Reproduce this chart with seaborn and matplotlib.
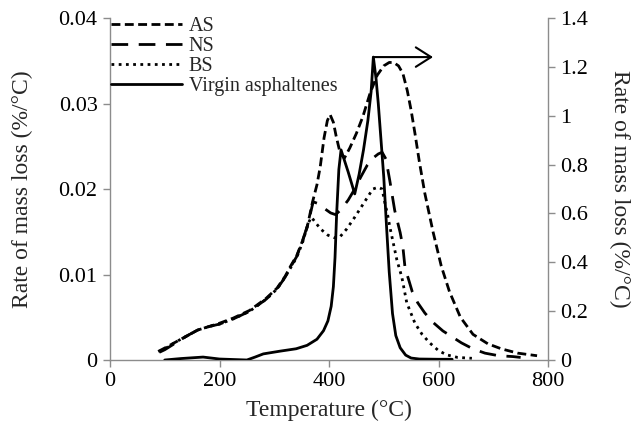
import matplotlib
matplotlib.use("Agg")
import matplotlib.pyplot as plt
import seaborn as sns
import numpy as np

# ---- data ----
labels = ["AS", "NS", "BS", "Virgin asphaltenes"]

t_as = [88, 100, 120, 140, 160, 180, 200, 225, 255, 285, 305, 320, 330, 341, 352, 360, 370, 378,
        384, 391, 397, 402, 408, 413, 420, 428, 438, 450, 462, 475, 488, 500, 510, 518, 527, 535,
        543, 550, 557, 565, 575, 590, 605, 620, 640, 663, 690, 715, 745, 780]
as_vals = [0.0010, 0.0014, 0.0021, 0.0028, 0.0035, 0.0039, 0.0043, 0.0049, 0.0058, 0.0072, 0.0084,
           0.0098, 0.0110, 0.0122, 0.0140, 0.0155, 0.0185, 0.0205, 0.0226, 0.0260, 0.0280, 0.0287,
           0.0278, 0.0262, 0.0243, 0.0236, 0.0248, 0.0265, 0.0285, 0.0312, 0.0333, 0.0344, 0.0348,
           0.0348, 0.0344, 0.0335, 0.0315, 0.0292, 0.0265, 0.0232, 0.0195, 0.0150, 0.0110, 0.0080,
           0.0050, 0.0030, 0.0019, 0.0013, 0.0008, 0.0005]

t_ns = [90, 100, 120, 140, 160, 180, 200, 225, 255, 285, 305, 320, 330, 341, 352, 362, 371, 380,
        392, 403, 412, 422, 435, 447, 458, 470, 480, 490, 497, 504, 511, 520, 530, 535, 539, 545,
        552, 562, 575, 590, 608, 625, 642, 663, 685, 710, 736, 750]
ns_vals = [0.0009, 0.0012, 0.0020, 0.0028, 0.0035, 0.0039, 0.0042, 0.0048, 0.0057, 0.0071, 0.0083,
           0.0097, 0.0109, 0.0121, 0.0140, 0.0160, 0.0185, 0.0183, 0.0177, 0.0172, 0.0170, 0.0176,
           0.0187, 0.0200, 0.0214, 0.0228, 0.0236, 0.0241, 0.0243, 0.0235, 0.0210, 0.0175, 0.0149,
           0.0132, 0.0107, 0.0095, 0.0080, 0.0067, 0.0055, 0.0044, 0.0034, 0.0027, 0.0020, 0.0013,
           0.0008, 0.0005, 0.0004, 0.0003]

t_bs = [90, 100, 120, 140, 160, 180, 200, 225, 255, 285, 305, 320, 330, 341, 352, 362, 368, 375,
        385, 398, 410, 420, 432, 447, 460, 470, 480, 490, 497, 502, 507, 511, 518, 524, 533, 542,
        557, 570, 584, 600, 615, 635, 661]
bs_vals = [0.0010, 0.0013, 0.0021, 0.0028, 0.0035, 0.0039, 0.0042, 0.0048, 0.0057, 0.0071, 0.0083,
           0.0097, 0.0108, 0.0120, 0.0138, 0.0160, 0.0167, 0.0161, 0.0153, 0.0146, 0.0143, 0.0144,
           0.0153, 0.0167, 0.0180, 0.0190, 0.0200, 0.0202, 0.0200, 0.0184, 0.0170, 0.0156, 0.0135,
           0.0117, 0.0097, 0.0067, 0.0043, 0.0030, 0.0020, 0.0011, 0.0006, 0.0003, 0.0002]

t_v = [100, 130, 170, 200, 250, 265, 280, 310, 340, 360, 378, 390, 398, 404, 408, 411, 414, 418,
       422, 435, 447, 455, 463, 471, 477, 481, 486, 490, 495, 500, 505, 510, 516, 522, 530, 540,
       550, 565, 600, 625]
v_vals = [0.0, 0.006, 0.012, 0.004, 0.0, 0.012, 0.025, 0.036, 0.046, 0.060, 0.085, 0.12, 0.16,
          0.22, 0.30, 0.42, 0.60, 0.78, 0.86, 0.77, 0.68, 0.76, 0.86, 0.98, 1.10, 1.24, 1.15, 1.05,
          0.90, 0.75, 0.55, 0.36, 0.19, 0.10, 0.05, 0.02, 0.008, 0.004, 0.003, 0.003]

x_ticks = [0, 200, 400, 600, 800]
left_ticks = [0, 0.01, 0.02, 0.03, 0.04]
left_ticklabels = ["0", "0.01", "0.02", "0.03", "0.04"]
right_ticks = [0, 0.2, 0.4, 0.6, 0.8, 1.0, 1.2, 1.4]
right_ticklabels = ["0", "0.2", "0.4", "0.6", "0.8", "1", "1.2", "1.4"]
arrow_end_T = 590

# ---- style ----
sns.set_style("white")
plt.rcParams["font.family"] = ["Liberation Serif", "DejaVu Serif"]

FS = 16
GREY = "#8c8c8c"

fig = plt.figure(figsize=(6.36, 4.32), dpi=100)
ax = fig.add_axes([110 / 636, 1 - 360 / 432, 438 / 636, 342 / 432])
ax2 = ax.twinx()

lw = 2.0
sns.lineplot(x=t_as, y=as_vals, ax=ax, color="black", lw=lw, linestyle=(0, (3.2, 1.6)), label=labels[0], legend=False)
sns.lineplot(x=t_ns, y=ns_vals, ax=ax, color="black", lw=lw, linestyle=(0, (6.0, 3.8)), label=labels[1], legend=False)
sns.lineplot(x=t_bs, y=bs_vals, ax=ax, color="black", lw=lw, linestyle=(0, (1.0, 1.6)), label=labels[2], legend=False)
sns.lineplot(x=t_v, y=v_vals, ax=ax2, color="black", lw=lw, linestyle="-", label=labels[3], legend=False)

ax.set_xlim(0, 800)
ax.set_ylim(0, 0.04)
ax2.set_ylim(0, 1.4)
ax.set_xticks(x_ticks)
ax.set_xticklabels([str(t) for t in x_ticks])
ax.set_yticks(left_ticks)
ax.set_yticklabels(left_ticklabels)
ax2.set_yticks(right_ticks)
ax2.set_yticklabels(right_ticklabels)

for a in (ax, ax2):
    a.spines["top"].set_visible(False)
    for s in ("left", "right", "bottom"):
        a.spines[s].set_color(GREY)
        a.spines[s].set_linewidth(1.0)
    a.tick_params(axis="both", direction="out", length=5, width=1.0, color=GREY,
                  labelsize=FS, labelcolor="black", pad=4)
ax.spines["right"].set_visible(False)
ax2.spines["left"].set_visible(False)
ax2.spines["bottom"].set_visible(False)
ax.tick_params(axis="y", left=True, right=False)
ax.tick_params(axis="x", bottom=True)
ax2.tick_params(axis="y", right=True, left=False)

ax.set_xlabel("Temperature (°C)", fontsize=FS + 1, labelpad=6)
ax.set_ylabel("Rate of mass loss (%/°C)", fontsize=FS + 1, labelpad=18)
ax2.set_ylabel("Rate of mass loss (%/°C)", fontsize=FS + 1, rotation=270, labelpad=30)

# arrow from the virgin asphaltenes peak pointing to the right axis
i_pk = int(np.argmax(v_vals))
ax2.annotate("", xy=(arrow_end_T, v_vals[i_pk]), xytext=(t_v[i_pk], v_vals[i_pk]),
             arrowprops=dict(arrowstyle="->,head_length=0.55,head_width=0.35",
                             color="black", lw=1.5, mutation_scale=20, shrinkA=0, shrinkB=0))

handles = ax.get_lines()[:3] + ax2.get_lines()[:1]
ax2.legend(handles, labels, loc="upper left", bbox_to_anchor=(-0.002, 1.01), frameon=False,
           fontsize=14.5, handlelength=3.5, handletextpad=0.35, labelspacing=0.05,
           borderaxespad=0.0, borderpad=0.1)

fig.savefig("out.png", dpi=100)
